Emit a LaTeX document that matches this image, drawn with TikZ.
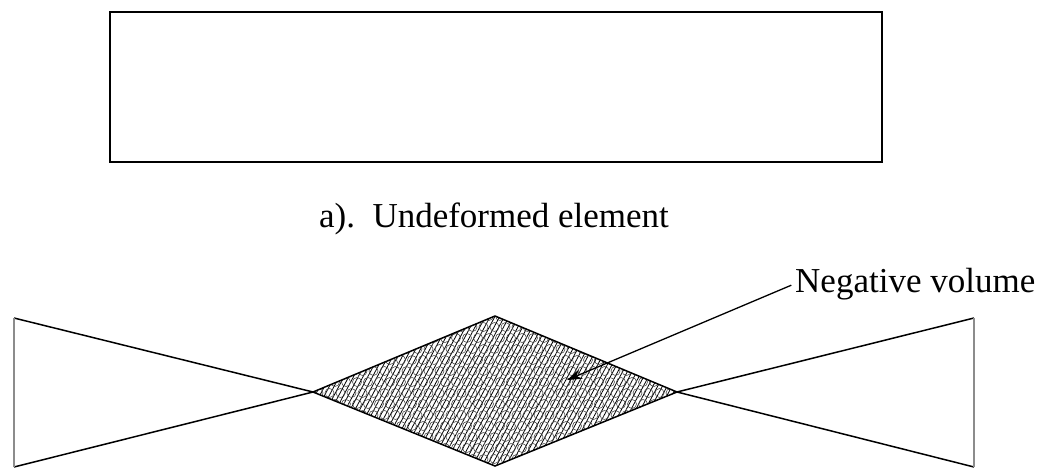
\documentclass[tikz,border=0pt]{standalone}
\usepackage{fontspec}
\setmainfont{Liberation Serif}
\usetikzlibrary{patterns.meta,arrows.meta}
\begin{document}
\begin{tikzpicture}[x=1pt,y=-1pt,
  edge/.style={line width=1.5pt,black},
  sideline/.style={line width=2.4pt,black!45},
  lbl/.style={font=\fontsize{35}{40}\selectfont,inner sep=0pt},
  elem/.style={draw,line width=2pt,inner sep=0pt,minimum width=772pt,minimum height=150pt}]
\useasboundingbox (0,0) rectangle (1046,469);
% undeformed element
\node[elem] (box) at (496,87) {};
\node[lbl,anchor=base] (capA) at (494,227) {a).\ \ Undeformed element};
% deformed element vertices
\coordinate (TL) at (14,318);
\coordinate (BL) at (14,467);
\coordinate (L) at (313,392);
\coordinate (T) at (495,316);
\coordinate (R) at (677,392);
\coordinate (B) at (495,466);
\coordinate (TR) at (974,318);
\coordinate (BR) at (974,467);
% hatched negative volume
\fill[pattern={Lines[angle=62,distance=4.2pt,line width=0.8pt]},pattern color=black] (L) -- (T) -- (R) -- (B) -- cycle;
\begin{scope}
  \clip (L) -- (T) -- (R) -- (B) -- cycle;
  \foreach \j in {0,...,14}{
    \foreach \i in {0,...,34}{
      \draw[line width=0.6pt,black!70] ({313+\i*11+mod(\j,2)*5.5},{316+\j*11}) circle (4.5);
    }
  }
\end{scope}
\draw[edge] (L) -- (T) -- (R) -- (B) -- cycle;
\draw[edge] (TL) -- (L) -- (BL);
\draw[edge] (TR) -- (R) -- (BR);
\draw[sideline] (TL) -- (BL);
\draw[sideline] (TR) -- (BR);
% label with arrow
\node[lbl,anchor=base west] (nv) at (795,292) {Negative volume};
\coordinate (tip) at (567,380);
\draw[line width=1.3pt,-{Stealth[length=15pt,width=10pt]},shorten <=4pt] (nv.west) -- (tip);
\end{tikzpicture}
\end{document}
